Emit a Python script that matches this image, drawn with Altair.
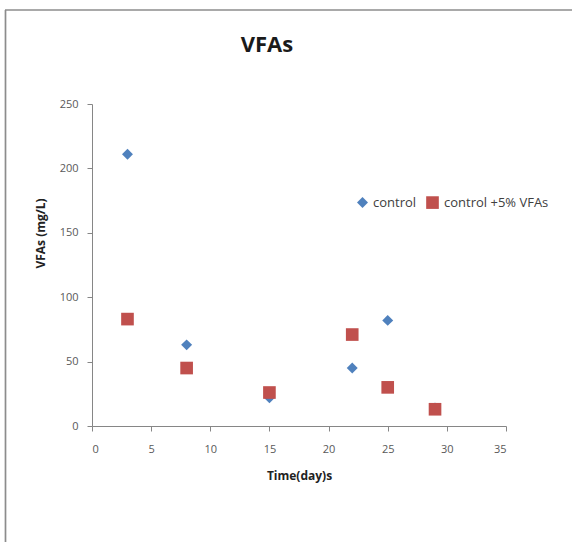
import altair as alt
import pandas as pd

# ---- data ----
series_names = ["control", "control +5% VFAs"]
days_control = [3, 8, 15, 22, 25, 29]
vfa_control = [211, 63, 22, 45, 82, 14]
days_vfa = [3, 8, 15, 22, 25, 29]
vfa_vfa = [83, 45, 26, 71, 30, 13]
x_ticks = [0, 5, 10, 15, 20, 25, 30, 35]
y_ticks = [0, 50, 100, 150, 200, 250]

rows = []
for d, v in zip(days_control, vfa_control):
    rows.append({"day": d, "vfa": v, "series": series_names[0]})
for d, v in zip(days_vfa, vfa_vfa):
    rows.append({"day": d, "vfa": v, "series": series_names[1]})
df = pd.DataFrame(rows)

FONT = "Open Sans"
AXIS_GRAY = "#868686"
LABEL_GRAY = "#595959"

points = alt.Chart(df).mark_point(filled=True, opacity=1).encode(
    x=alt.X("day:Q",
            scale=alt.Scale(domain=[0, 35], nice=False),
            axis=alt.Axis(values=x_ticks, title="Time(day)s", grid=False,
                          domainColor=AXIS_GRAY, tickColor=AXIS_GRAY, tickSize=5,
                          labelFont=FONT, labelFontSize=11, labelColor=LABEL_GRAY,
                          labelPadding=12, titleFont=FONT, titleFontSize=12,
                          titleFontWeight="bold", titleColor="#222222",
                          titlePadding=16)),
    y=alt.Y("vfa:Q",
            scale=alt.Scale(domain=[0, 250], nice=False),
            axis=alt.Axis(values=y_ticks, title="VFAs (mg/L)", grid=False,
                          domainColor=AXIS_GRAY, tickColor=AXIS_GRAY, tickSize=5,
                          labelFont=FONT, labelFontSize=11, labelColor=LABEL_GRAY,
                          labelPadding=9, titleFont=FONT, titleFontSize=12,
                          titleFontWeight="bold", titleColor="#222222",
                          titleX=-45, titleY=129)),
    color=alt.Color("series:N",
                    scale=alt.Scale(domain=series_names, range=["#4F81BD", "#C0504D"]),
                    legend=alt.Legend(title=None, orient="none", direction="horizontal",
                                      legendX=264, legendY=91, symbolSize=70,
                                      labelFont=FONT, labelFontSize=13, labelColor="#404040",
                                      columnPadding=6, labelOffset=4, symbolOpacity=1)),
    shape=alt.Shape("series:N",
                    scale=alt.Scale(domain=series_names, range=["diamond", "square"])),
    size=alt.Size("series:N",
                  scale=alt.Scale(domain=series_names, range=[120, 160]), legend=None),
)

frame_data = alt.Data(values=[{"k": 1}])
top_line = alt.Chart(frame_data).mark_rule(color="#8c8c8c", strokeWidth=1.7).encode(
    x=alt.value(-87), x2=alt.value(480), y=alt.value(-94))
left_line = alt.Chart(frame_data).mark_rule(color="#8c8c8c", strokeWidth=1.7).encode(
    x=alt.value(-86.5), y=alt.value(-94), y2=alt.value(440))

chart = alt.layer(points, top_line, left_line).properties(
    width=414, height=322,
    background="white",
    title=alt.TitleParams("VFAs", font=FONT, fontSize=22, fontWeight="bold",
                          color="#1a1a1a", anchor="middle", dx=-32, offset=-48),
    autosize=alt.AutoSizeParams(type="none"),
    padding={"left": 92, "top": 104, "right": 66, "bottom": 116},
).configure_view(strokeWidth=0, stroke="transparent")

chart.save("out.html", embed_options={"renderer": "svg", "actions": False})
